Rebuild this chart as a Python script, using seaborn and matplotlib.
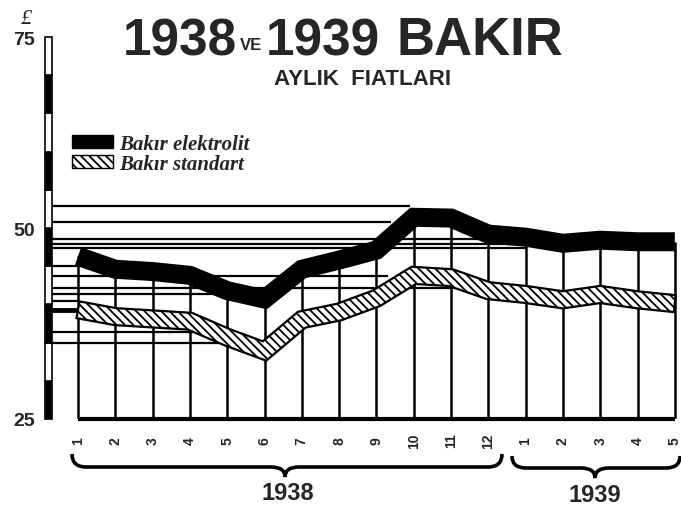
import numpy as np
import pandas as pd
import matplotlib
matplotlib.use("Agg")
import matplotlib.pyplot as plt
import seaborn as sns
from matplotlib.patches import Patch, PathPatch
from matplotlib.path import Path

# ---------------- data ----------------
month_labels = ["1", "2", "3", "4", "5", "6", "7", "8", "9", "10", "11", "12",
                "1", "2", "3", "4", "5"]
elektrolit = [46.3, 44.6, 44.3, 43.8, 41.8, 40.7, 44.6, 45.8, 47.1, 51.4, 51.3,
              49.2, 48.8, 48.0, 48.4, 48.2, 48.2]
standart = [39.3, 38.4, 38.1, 37.8, 35.7, 33.9, 38.0, 39.0, 40.8, 43.8, 43.5,
            41.8, 41.3, 40.6, 41.3, 40.6, 40.1]
ref_levels = [52.9, 50.8, 48.5, 47.9, 47.4, 45.0, 43.7, 42.2, 41.3, 40.4, 36.4, 35.0]
ref_xmax = [8.9, 8.4, 12.0, 12.0, 12.0, 0.0, 8.3, 10.3, 4.0, 0.0, 3.8, 3.9]
scale_bottoms = [25, 30, 35, 40, 45, 50, 55, 60, 65, 70]
scale_colors = ["black", "white"] * 5
ytick_vals = [25, 50, 75]
ytick_labels = ["25", "50", "75"]
series_names = ["Bakır elektrolit", "Bakır standart"]

df = pd.DataFrame({"ay": np.arange(len(month_labels)), "elektrolit": elektrolit,
                   "standart": standart})

# ---------------- figure ----------------
sns.set_style("white")
plt.rcParams["font.family"] = ["Liberation Sans", "DejaVu Sans"]
plt.rcParams["hatch.linewidth"] = 1.3

W, H = 681, 506
fig = plt.figure(figsize=(W / 100, H / 100), dpi=100)
ax = fig.add_axes([45 / W, (H - 420) / H, 636 / W, 382 / H])
ax.set_xlim(-0.885, 16.166)
ax.set_ylim(25, 75)
for s in ax.spines.values():
    s.set_visible(False)
ax.set_facecolor("white")

# left scale bar
ax.bar(x=-0.79, height=5, width=0.18, bottom=scale_bottoms, color=scale_colors,
       edgecolor="black", linewidth=1.2, align="center", zorder=3, clip_on=False)

# horizontal reference lines
ax.hlines(ref_levels, xmin=-0.70, xmax=ref_xmax, color="black", linewidth=1.6, zorder=2)
ax.hlines(standart[0], xmin=-0.70, xmax=0, color="black", linewidth=3.5, zorder=2)

# vertical month lines
ax.vlines(df["ay"], 25, df["elektrolit"], color="black", linewidth=1.8, zorder=2)
# bottom axis line
ax.hlines(25, 0, len(month_labels) - 1, color="black", linewidth=3, zorder=3, clip_on=False)

# standart band: hatched ribbon with constant perpendicular thickness
pts = ax.transData.transform(np.column_stack([df["ay"], df["standart"]]))
hw = 8.5
n = len(pts)
normals = []
for i in range(n - 1):
    d = pts[i + 1] - pts[i]
    d = d / np.hypot(*d)
    normals.append(np.array([-d[1], d[0]]))
offs = []
for i in range(n):
    if i == 0:
        o = normals[0] * hw
    elif i == n - 1:
        o = normals[-1] * hw
    else:
        m = normals[i - 1] + normals[i]
        m = m / np.hypot(*m)
        o = m * hw / np.dot(m, normals[i])
    offs.append(o)
offs = np.array(offs)
poly = np.vstack([pts + offs, (pts - offs)[::-1]])
poly_d = ax.transData.inverted().transform(poly)
ax.fill(poly_d[:, 0], poly_d[:, 1], facecolor="white", edgecolor="black",
        hatch="\\\\\\\\", linewidth=1.6, zorder=4)

# elektrolit: thick black line
sns.lineplot(data=df, x="ay", y="elektrolit", ax=ax, color="black", linewidth=13.7,
             legend=False, zorder=5, solid_capstyle="butt", solid_joinstyle="miter")

ax.set_xlabel("")
ax.set_ylabel("")
ax.set_xticks(df["ay"])
ax.set_xticklabels(month_labels, rotation=90, fontsize=10, fontweight="bold")
for t in ax.get_xticklabels():
    t.set_va("center")
ax.set_yticks(ytick_vals)
ax.set_yticklabels(ytick_labels, fontsize=14, fontweight="bold")
ax.tick_params(axis="x", length=0, pad=15)
ax.tick_params(axis="y", length=0, pad=7)
ax.grid(False)

# legend
handles = [Patch(facecolor="black", edgecolor="black"),
           Patch(facecolor="white", edgecolor="black", hatch="\\\\\\\\", linewidth=1.0)]
leg = ax.legend(handles, series_names, loc="upper left",
                bbox_to_anchor=(72 / W, 1 - 135 / H), bbox_transform=fig.transFigure,
                frameon=False, borderpad=0, borderaxespad=0, handlelength=1.95,
                handleheight=0.55, handletextpad=0.3, labelspacing=0.0,
                prop={"family": "Liberation Serif", "style": "italic",
                      "weight": "bold", "size": 15})

# titles
def ftext(x, y, s, **kw):
    fig.text(x / W, 1 - y / H, s, **kw)

ftext(123, 55, "1938", fontsize=37, fontweight="bold", va="baseline")
ftext(240, 50, "VE", fontsize=12, fontweight="bold", va="baseline")
ftext(266, 55, "1939", fontsize=37, fontweight="bold", va="baseline")
ftext(396, 55, "BAKIR", fontsize=38, fontweight="bold", va="baseline")
ftext(362, 85, "AYLIK  FIATLARI", fontsize=16, fontweight="bold", va="baseline", ha="center")
ftext(21, 24, "£", fontsize=16, style="italic", va="baseline",
      family=["Liberation Serif", "DejaVu Serif"])

# braces
def brace(x0, x1, xt, ytop, ymid, ytip):
    c = 14
    verts = [(x0, ytop), (x0, ymid), (x0 + c, ymid), (xt - c, ymid),
             (xt, ymid), (xt, ytip), (xt, ymid), (xt + c, ymid),
             (x1 - c, ymid), (x1, ymid), (x1, ytop)]
    codes = [Path.MOVETO, Path.CURVE3, Path.CURVE3, Path.LINETO,
             Path.CURVE3, Path.CURVE3, Path.CURVE3, Path.CURVE3,
             Path.LINETO, Path.CURVE3, Path.CURVE3]
    v = [(x / W, 1 - y / H) for x, y in verts]
    fig.add_artist(PathPatch(Path(v, codes), fill=False, edgecolor="black",
                             linewidth=2.6, transform=fig.transFigure))

brace(72, 502, 285, 455, 468, 478)
brace(512, 680, 595, 457, 469, 479)
ftext(288, 500, "1938", fontsize=17, fontweight="bold", va="baseline", ha="center")
ftext(595, 502, "1939", fontsize=17, fontweight="bold", va="baseline", ha="center")

fig.savefig("out.png", dpi=100, facecolor="white")
